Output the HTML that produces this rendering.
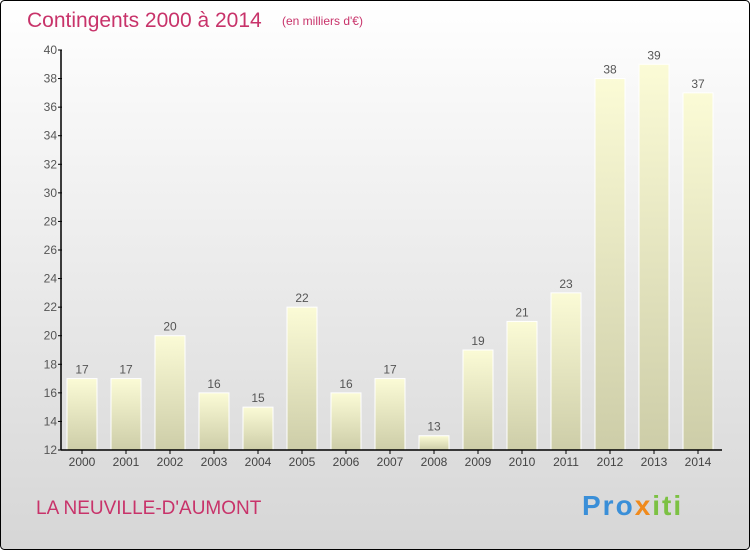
<!DOCTYPE html>
<html><head><meta charset="utf-8"><style>
body{margin:0;width:750px;height:550px;overflow:hidden;font-family:"Liberation Sans",sans-serif}
</style></head><body>
<svg width="750" height="550" xmlns="http://www.w3.org/2000/svg">
<defs>
<linearGradient id="bg" x1="0" y1="0" x2="0" y2="1"><stop offset="0" stop-color="#ffffff"/><stop offset="1" stop-color="#d6d6d6"/></linearGradient>
<linearGradient id="bar" x1="0" y1="0" x2="0" y2="1"><stop offset="0" stop-color="#fbfbd6"/><stop offset="1" stop-color="#cdcda8"/></linearGradient>
</defs>
<rect x="0.5" y="0.5" width="749" height="549" rx="4" fill="url(#bg)" stroke="#000"/>
<text x="27" y="27" font-size="21" fill="#c8336a">Contingents 2000 à 2014</text>
<text x="282" y="25" font-size="12" fill="#c8336a">(en milliers d'€)</text>
<g id="plot"></g>
<text x="36" y="514" font-size="19" fill="#c8336a">LA NEUVILLE-D'AUMONT</text>
<text x="582" y="515" font-size="28" font-weight="bold" letter-spacing="2"><tspan fill="#3a8fd8">Pro</tspan><tspan fill="#f08a1c">x</tspan><tspan fill="#7cc143">iti</tspan></text>
</svg>
<script>
const years=["2000","2001","2002","2003","2004","2005","2006","2007","2008","2009","2010","2011","2012","2013","2014"];
const values=[17,17,20,16,15,22,16,17,13,19,21,23,38,39,37];
const yTicks=[12,14,16,18,20,22,24,26,28,30,32,34,36,38,40];
const NS="http://www.w3.org/2000/svg";
const g=document.getElementById('plot');
const y=v=>450-(v-12)*400/28;
const x=i=>82+i*44;
function el(t,a){const e=document.createElementNS(NS,t);for(const k in a)e.setAttribute(k,a[k]);g.appendChild(e);return e;}
years.forEach((yr,i)=>{
 const r=el('rect',{x:x(i)-15,y:y(values[i]),width:30,height:450-y(values[i]),fill:'url(#bar)',stroke:'#ffffff','stroke-width':1});
 
 
 const t=el('text',{x:x(i),y:y(values[i])-5,'font-size':12,'text-anchor':'middle',fill:'#555'});t.textContent=values[i];
 
 
 const l=el('text',{x:x(i),y:466,'font-size':12,'text-anchor':'middle',fill:'#444'});l.textContent=yr;
 
 
 el('line',{x1:x(i),x2:x(i),y1:450,y2:454,stroke:'#000'});
});
yTicks.forEach(v=>{
 el('line',{x1:58,x2:62,y1:y(v),y2:y(v),stroke:'#000'});
 const t=el('text',{x:57,y:y(v)+4,'font-size':12,'text-anchor':'end',fill:'#555'});t.textContent=v;
 
 
});
const ya=el('line',{x1:61,x2:61,y1:50,y2:450,stroke:'#000','stroke-width':1.5});


const xa=el('line',{x1:61,x2:722,y1:450,y2:450,stroke:'#000','stroke-width':1.5});


</script>
</body></html>
